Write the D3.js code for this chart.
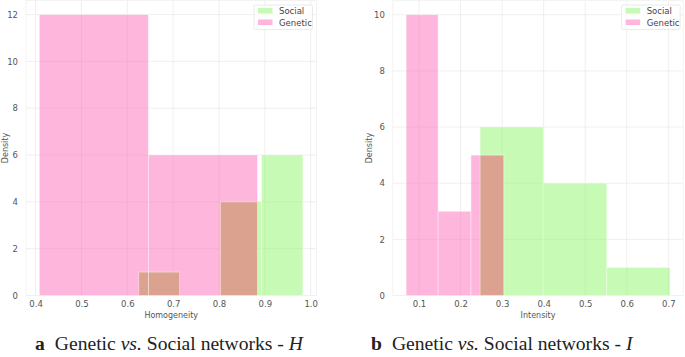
<!DOCTYPE html>
<html><head><meta charset="utf-8">
<style>
  body { margin: 0; background: #fff; }
  svg { display: block; }
  .tick text { font-family: "DejaVu Sans", sans-serif; font-size: 8.5px; fill: #555; }
  .alab { font-family: "DejaVu Sans", sans-serif; font-size: 8px; fill: #555; }
  .leg { font-family: "DejaVu Sans", sans-serif; font-size: 8.5px; fill: #444; }
  .cap { font-family: "Liberation Serif", "Times New Roman", serif; font-size: 19.6px; fill: #222; }
</style>
</head><body>
<svg id="chart" width="685" height="357"></svg>
<script src="https://cdnjs.cloudflare.com/ajax/libs/d3/7.8.5/d3.min.js"></script>
<script>
// panel a: homogeneity
const homGeneticEdges = [0.408, 0.646, 0.884];
const homGeneticDensity = [12, 6];
const homSocialEdges = [0.625, 0.714, 0.803, 0.893, 0.983];
const homSocialDensity = [1, 0, 4, 6];
const homXTicks = [0.4, 0.5, 0.6, 0.7, 0.8, 0.9, 1.0];
const homYTicks = [0, 2, 4, 6, 8, 10, 12];

// panel b: intensity
const intGeneticEdges = [0.069, 0.146, 0.225, 0.304];
const intGeneticDensity = [10, 3, 5];
const intSocialEdges = [0.247, 0.399, 0.552, 0.704];
const intSocialDensity = [6, 4, 1];
const intXTicks = [0.1, 0.2, 0.3, 0.4, 0.5, 0.6, 0.7];
const intYTicks = [0, 2, 4, 6, 8, 10];

const seriesNames = ["Social", "Genetic"];
const socialColor = "#90f569";
const geneticColor = "#ff6db9";
const overlapColor = "#d9a08a";

const svg = d3.select("#chart");

function toBins(edges, dens) {
  return dens.map((d, i) => ({ x0: edges[i], x1: edges[i + 1], d: d })).filter(b => b.d > 0);
}

// where the two histograms overlap, the colours mix to a brown
function overlaps(a, b) {
  const out = [];
  a.forEach(p => b.forEach(q => {
    const x0 = Math.max(p.x0, q.x0), x1 = Math.min(p.x1, q.x1);
    if (x1 > x0) out.push({ x0: x0, x1: x1, d: Math.min(p.d, q.d) });
  }));
  return out;
}

function panel(opt) {
  const g = svg.append("g");
  const x = d3.scaleLinear().domain(opt.xDom).range([opt.left, opt.right]);
  const y = d3.scaleLinear().domain(opt.yDom).range([opt.bottom, opt.top]);

  // grid
  g.append("g").selectAll("line").data(opt.xTicks).enter().append("line")
    .attr("x1", d => x(d)).attr("x2", d => x(d))
    .attr("y1", opt.top).attr("y2", opt.bottom)
    .attr("stroke", "#ebebeb").attr("stroke-width", 0.8);
  g.append("g").selectAll("line").data(opt.yTicks).enter().append("line")
    .attr("x1", opt.left).attr("x2", opt.right)
    .attr("y1", d => y(d)).attr("y2", d => y(d))
    .attr("stroke", "#ebebeb").attr("stroke-width", 0.8);
  g.append("rect")
    .attr("x", opt.left).attr("y", opt.top)
    .attr("width", opt.right - opt.left).attr("height", opt.bottom - opt.top)
    .attr("fill", "none").attr("stroke", "#f0f0f0").attr("stroke-width", 0.8);

  // bars
  const drawBars = (bins, color, op) => {
    g.append("g").selectAll("rect").data(bins).enter().append("rect")
      .attr("x", b => x(b.x0)).attr("width", b => x(b.x1) - x(b.x0))
      .attr("y", b => y(b.d)).attr("height", b => y(0) - y(b.d))
      .attr("fill", color).attr("fill-opacity", op)
      .attr("stroke", "#fff").attr("stroke-opacity", 0.5).attr("stroke-width", 0.8);
  };
  const social = toBins(opt.socialEdges, opt.socialDens);
  const genetic = toBins(opt.geneticEdges, opt.geneticDens);
  drawBars(social, socialColor, 0.5);
  drawBars(genetic, geneticColor, 0.5);
  drawBars(overlaps(social, genetic), overlapColor, 0.88);

  // axes
  const xa = g.append("g").attr("transform", `translate(0,${opt.bottom})`)
    .call(d3.axisBottom(x).tickValues(opt.xTicks).tickFormat(d3.format(".1f")).tickSize(0).tickPadding(5));
  xa.select(".domain").remove();
  const ya = g.append("g").attr("transform", `translate(${opt.left},0)`)
    .call(d3.axisLeft(y).tickValues(opt.yTicks).tickFormat(d3.format("d")).tickSize(0).tickPadding(8));
  ya.select(".domain").remove();

  g.append("text").attr("class", "alab")
    .attr("x", (opt.left + opt.right) / 2).attr("y", opt.bottom + 22)
    .attr("text-anchor", "middle").text(opt.xLabel);
  g.append("text").attr("class", "alab")
    .attr("transform", `translate(${opt.yLabelX},${(opt.top + opt.bottom) / 2}) rotate(-90)`)
    .attr("text-anchor", "middle").text("Density");

  // legend
  const lg = g.append("g").attr("transform", `translate(${opt.legX},5)`);
  lg.append("rect").attr("width", opt.legW).attr("height", 24.5)
    .attr("fill", "#fff").attr("fill-opacity", 0.8)
    .attr("stroke", "#e6e6e6").attr("stroke-width", 0.8).attr("rx", 1.5);
  [socialColor, geneticColor].forEach((c, i) => {
    lg.append("rect").attr("x", 4).attr("y", 3 + i * 11.5).attr("width", 14.5).attr("height", 5.5)
      .attr("fill", c).attr("fill-opacity", 0.5);
    lg.append("text").attr("class", "leg").attr("x", 25).attr("y", 9 + i * 11.5)
      .text(seriesNames[i]);
  });

  // caption
  const cap = svg.append("text").attr("class", "cap")
    .attr("x", opt.capX).attr("y", 350);
  cap.append("tspan").attr("font-weight", "bold").text(opt.letter);
  cap.append("tspan").attr("dx", 10).text("Genetic ");
  cap.append("tspan").attr("font-style", "italic").text("vs.");
  cap.append("tspan").text(" Social networks - ");
  cap.append("tspan").attr("font-style", "italic").text(opt.sym);
}

panel({
  left: 26, right: 316.5, top: 0.5, bottom: 295.5,
  xDom: [0.379, 1.0127], yDom: [0, 12.6],
  xTicks: homXTicks, yTicks: homYTicks,
  socialEdges: homSocialEdges, socialDens: homSocialDensity,
  geneticEdges: homGeneticEdges, geneticDens: homGeneticDensity,
  xLabel: "Homogeneity", yLabelX: 8, legX: 254, legW: 58.5,
  capX: 35, letter: "a", sym: "H"
});
panel({
  left: 392.8, right: 683.2, top: 0.7, bottom: 295.5,
  xDom: [0.0369, 0.7358], yDom: [0, 10.5],
  xTicks: intXTicks, yTicks: intYTicks,
  socialEdges: intSocialEdges, socialDens: intSocialDensity,
  geneticEdges: intGeneticEdges, geneticDens: intGeneticDensity,
  xLabel: "Intensity", yLabelX: 372, legX: 621.7, legW: 58.5,
  capX: 371, letter: "b", sym: "I"
});
</script>
</body></html>
